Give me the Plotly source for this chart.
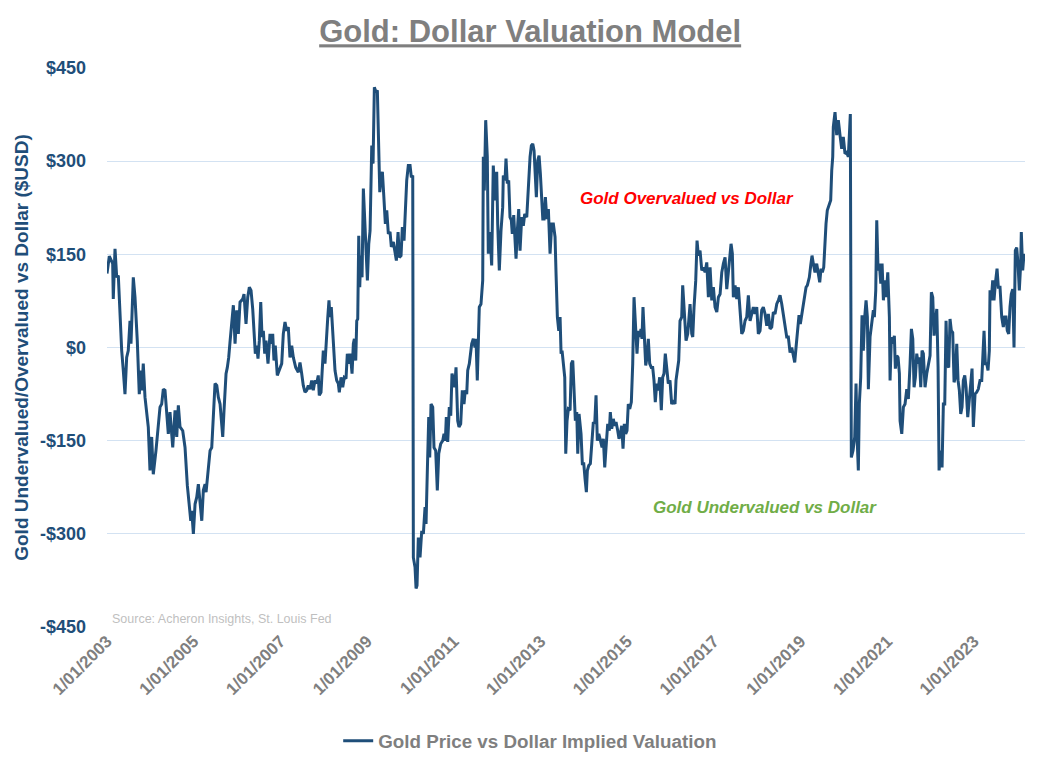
import pandas as pd
import plotly.graph_objects as go

# ---- data (decimal year, $ over/under valuation) ----
dec_year = [
 2003.000,2003.053,2003.131,2003.145,2003.185,2003.224,2003.261,2003.300,2003.339,2003.376,2003.415,2003.454,2003.491,2003.531,2003.554,2003.607,2003.646,2003.699,2003.745,2003.784,2003.807,2003.837,2003.877,2003.953,2003.992,
 2004.031,2004.068,2004.130,2004.183,2004.223,2004.262,2004.299,2004.338,2004.377,2004.414,2004.453,2004.516,2004.569,2004.608,2004.645,2004.684,2004.746,2004.799,2004.852,2004.898,2004.931,2004.954,2004.991,
 2005.030,2005.069,2005.106,2005.145,2005.185,2005.221,2005.261,2005.284,2005.323,2005.376,2005.415,2005.452,2005.491,2005.531,2005.567,2005.607,2005.646,2005.669,2005.699,2005.745,2005.775,2005.807,2005.837,2005.877,2005.914,2005.953,2005.992,
 2006.029,2006.068,2006.130,2006.160,2006.206,2006.246,2006.283,2006.322,2006.361,2006.391,2006.421,2006.453,2006.483,2006.513,2006.546,2006.576,2006.606,2006.638,2006.668,2006.714,2006.760,2006.790,2006.822,2006.852,2006.882,2006.928,2006.975,
 2007.030,2007.067,2007.106,2007.145,2007.182,2007.221,2007.261,2007.298,2007.353,2007.413,2007.452,2007.491,2007.528,2007.567,2007.607,2007.644,2007.683,2007.722,2007.759,2007.798,2007.837,2007.874,2007.897,2007.937,2007.967,2007.990,
 2008.029,2008.068,2008.091,2008.121,2008.144,2008.174,2008.220,2008.260,2008.299,2008.336,2008.359,2008.398,2008.437,2008.474,2008.513,2008.543,2008.582,2008.613,2008.652,2008.682,2008.705,2008.737,2008.760,2008.783,2008.806,2008.829,2008.852,2008.882,2008.912,2008.952,
 2009.005,2009.037,2009.067,2009.106,2009.136,2009.166,2009.205,2009.235,2009.268,2009.291,2009.321,2009.351,2009.383,2009.420,2009.452,2009.489,2009.528,2009.558,2009.604,2009.644,2009.674,2009.713,2009.743,2009.782,2009.812,2009.851,2009.881,2009.913,2009.950,2009.990,
 2010.020,2010.052,2010.066,2010.105,2010.128,2010.151,2010.181,2010.220,2010.260,2010.297,2010.336,2010.359,2010.389,2010.421,2010.444,2010.474,2010.513,2010.543,2010.582,2010.619,2010.652,2010.698,2010.744,2010.774,2010.804,2010.827,2010.859,2010.896,2010.929,2010.958,2010.989,
 2011.021,2011.051,2011.090,2011.120,2011.159,2011.196,2011.235,2011.265,2011.298,2011.321,2011.358,2011.413,2011.450,2011.489,2011.512,2011.542,2011.588,2011.627,2011.667,2011.681,2011.704,2011.736,2011.773,2011.796,2011.835,2011.874,2011.911,2011.950,2011.990,
 2012.013,2012.050,2012.089,2012.128,2012.142,2012.181,2012.204,2012.234,2012.266,2012.296,2012.326,2012.349,2012.382,2012.412,2012.435,2012.465,2012.497,2012.527,2012.566,2012.603,2012.635,2012.682,2012.719,2012.758,2012.788,2012.820,2012.850,2012.873,2012.903,2012.935,2012.965,2012.995,
 2013.028,2013.051,2013.081,2013.111,2013.143,2013.180,2013.219,2013.258,2013.295,2013.334,2013.357,2013.388,2013.420,2013.450,2013.473,2013.496,2013.526,2013.558,2013.581,2013.611,2013.641,2013.681,2013.711,2013.743,2013.773,2013.803,2013.835,2013.858,2013.888,2013.934,2013.964,2013.997,
 2014.027,2014.057,2014.080,2014.112,2014.149,2014.188,2014.218,2014.250,2014.280,2014.310,2014.343,2014.373,2014.419,2014.449,2014.481,2014.511,2014.550,2014.587,2014.610,2014.642,2014.679,2014.712,2014.742,2014.781,2014.811,2014.841,2014.873,2014.903,2014.933,2014.965,2014.995,
 2015.025,2015.058,2015.095,2015.127,2015.157,2015.180,2015.203,2015.226,2015.256,2015.288,2015.318,2015.341,2015.364,2015.394,2015.427,2015.457,2015.487,2015.519,2015.556,2015.588,2015.618,2015.648,2015.681,2015.711,2015.750,2015.787,2015.819,2015.849,2015.879,2015.911,2015.948,2015.987,
 2016.026,2016.064,2016.103,2016.126,2016.156,2016.188,2016.218,2016.257,2016.280,2016.317,2016.357,2016.396,2016.426,2016.449,2016.488,2016.511,2016.541,2016.580,2016.610,2016.640,2016.679,2016.719,2016.756,2016.795,2016.834,2016.871,2016.910,2016.949,2016.986,
 2017.025,2017.065,2017.102,2017.141,2017.180,2017.217,2017.256,2017.295,2017.332,2017.371,2017.394,2017.424,2017.447,2017.487,2017.526,2017.563,2017.602,2017.641,2017.678,2017.717,2017.756,2017.793,2017.833,2017.872,2017.909,2017.948,2017.987,
 2018.024,2018.063,2018.102,2018.139,2018.179,2018.218,2018.255,2018.294,2018.333,2018.370,2018.409,2018.449,2018.486,2018.525,2018.564,2018.601,2018.640,2018.679,2018.716,2018.756,2018.795,2018.832,2018.864,2018.894,2018.933,2018.963,2018.993,
 2019.025,2019.062,2019.101,2019.125,2019.155,2019.201,2019.233,2019.263,2019.293,2019.332,2019.371,2019.408,2019.441,2019.471,2019.501,2019.533,2019.563,2019.586,2019.616,2019.655,2019.694,2019.718,2019.741,2019.754,2019.794,2019.833,2019.870,2019.909,2019.948,2019.985,
 2020.024,2020.063,2020.100,2020.123,2020.147,2020.170,2020.209,2020.248,2020.278,2020.308,2020.331,2020.354,2020.386,2020.416,2020.446,2020.478,2020.509,2020.539,2020.562,2020.601,2020.640,2020.677,2020.700,2020.732,2020.755,2020.785,2020.815,2020.848,2020.878,2020.908,2020.940,2020.970,
 2021.009,2021.046,2021.062,2021.092,2021.125,2021.161,2021.184,2021.217,2021.247,2021.277,2021.293,2021.332,2021.369,2021.408,2021.447,2021.484,2021.524,2021.554,2021.586,2021.616,2021.646,2021.678,2021.708,2021.738,2021.770,2021.800,2021.830,2021.869,2021.909,2021.946,2021.985,
 2022.015,2022.047,2022.077,2022.107,2022.140,2022.170,2022.193,2022.232,2022.262,2022.292,2022.324,2022.354,2022.384,2022.416,2022.446,2022.476,2022.508,2022.539,2022.569,2022.601,2022.631,2022.661,2022.693,2022.723,2022.753,2022.786,2022.816,2022.855,2022.892,2022.924,2022.954,2022.984,
 2023.023,2023.062,2023.099,2023.138,2023.178,2023.201,2023.231,2023.261,2023.293,2023.323,2023.353,2023.369,2023.399,2023.431,2023.461,2023.492,2023.531,2023.561,2023.600,2023.639,2023.676,2023.708,2023.738,2023.768,2023.800,2023.830,2023.860,2023.893,2023.923,2023.953,2023.985,
 2024.015,2024.045,2024.077,2024.091,2024.123,2024.153,
]

valuation = [
 119,147,135,78,159,113,116,54,-5,-37,-75,-16,-5,43,6,113,81,11,-75,-37,-69,-26,-80,-128,-198,
 -144,-204,-166,-123,-96,-91,-67,-69,-112,-139,-104,-161,-101,-144,-93,-128,-134,-161,-222,-257,-279,-263,-300,
 -252,-241,-220,-246,-279,-230,-220,-233,-209,-166,-161,-112,-58,-61,-80,-91,-120,-144,-101,-42,-32,-16,9,46,68,6,60,
 22,73,78,86,38,81,97,92,62,33,-10,3,-18,11,73,17,27,-10,11,-26,22,6,22,-21,3,-45,-37,
 -26,22,41,27,33,-16,3,-16,-32,-40,-24,-42,-61,-72,-69,-61,-67,-53,-69,-53,-58,-45,-77,-72,-26,-5,
 -26,33,46,76,49,65,17,-37,-53,-58,-72,-48,-64,-48,-50,-10,-26,-10,-42,6,14,-21,43,46,180,97,148,113,256,194,
 108,167,188,325,296,419,411,414,339,250,274,283,245,199,221,183,186,162,170,148,140,186,145,148,194,172,226,269,293,293,
 274,277,-338,-354,-388,-383,-306,-338,-295,-300,-257,-284,-198,-112,-177,-91,-96,-161,-166,-230,-171,-155,-150,-139,-150,-112,-152,-96,-110,-42,-50,
 -64,-32,-118,-128,-123,-69,-91,-69,-75,-37,-26,6,14,0,14,-53,65,70,108,307,253,366,307,151,186,132,293,237,283,
 199,124,188,226,277,269,304,264,269,210,205,183,213,183,143,188,223,156,210,196,215,210,258,307,325,328,317,285,242,301,309,280,
 237,207,207,242,207,223,151,199,199,178,119,49,27,49,-10,-5,-26,-48,-171,-118,-99,-101,-26,-21,-69,-118,-104,-171,-107,-139,-187,-187,
 -212,-233,-198,-190,-187,-144,-120,-123,-77,-150,-139,-147,-161,-147,-193,-161,-123,-134,-104,-131,-115,-126,-120,-134,-147,-139,-126,-163,-123,-139,-134,
 -91,-99,-88,-26,81,43,6,-10,27,17,30,14,65,6,-29,-16,14,-26,-32,-32,-53,-88,-58,-69,-48,-101,-48,-42,-10,-32,-58,-53,
 -91,-85,-91,-53,-37,-21,43,49,100,54,11,22,49,70,22,17,65,108,172,148,156,124,129,121,137,81,129,76,97,
 65,57,81,86,121,135,145,94,124,151,167,151,81,100,78,97,54,22,27,43,49,84,43,57,65,54,65,
 22,27,60,65,54,35,54,30,33,57,54,70,76,84,70,54,33,17,17,-8,0,-16,-24,0,27,52,38,
 52,68,81,97,100,113,132,148,135,121,135,116,105,127,121,129,172,199,221,231,237,285,307,355,379,342,366,342,320,339,
 312,314,307,339,376,-177,-166,-144,-58,-155,-198,-91,-48,52,-5,49,76,49,-67,17,43,60,49,92,205,124,135,103,135,76,108,81,
 121,49,-53,17,6,19,-34,-13,-16,-42,-118,-139,-96,-91,-67,-83,-26,30,14,-64,-48,-10,-26,-16,-64,-5,-10,-64,-42,-26,-13,
 89,81,19,38,62,-32,-198,-166,-193,-91,-91,43,-29,-32,46,27,24,-56,-48,6,-53,-69,-107,-96,-53,-45,-64,-112,-88,-58,-34,-128,
 -75,-72,-67,-53,-53,-10,27,-26,-26,-37,-5,92,76,108,76,103,127,97,97,49,33,49,49,27,22,65,86,94,0,156,161,
 135,92,135,186,124,151,
]

tick_years = [2003, 2005, 2007, 2009, 2011, 2013, 2015, 2017, 2019, 2021, 2023]
tick_labels = ["1/01/" + str(y) for y in tick_years]
y_ticks = [-450, -300, -150, 0, 150, 300, 450]
y_labels = ["-$450", "-$300", "-$150", "$0", "$150", "$300", "$450"]


def to_date(y):
    yr = int(y)
    start = pd.Timestamp(year=yr, month=1, day=1)
    end = pd.Timestamp(year=yr + 1, month=1, day=1)
    return start + (end - start) * (y - yr)


dates = [to_date(y) for y in dec_year]

BLUE = "#1f4e79"
GREY = "#7f7f7f"
GRID = "#d3e2f2"

fig = go.Figure()
fig.add_trace(go.Scatter(
    x=dates, y=valuation, mode="lines",
    name="Gold Price vs Dollar Implied Valuation",
    line=dict(color=BLUE, width=3),
))

fig.update_layout(
    width=1054, height=767,
    paper_bgcolor="white", plot_bgcolor="white",
    margin=dict(l=107, r=29, t=68, b=140, autoexpand=False),
    font=dict(family="Liberation Sans, Arial, sans-serif"),
    title=dict(
        text="<u>Gold: Dollar Valuation Model</u>",
        x=0.503, xanchor="center", y=0.959, yanchor="middle",
        font=dict(family="Liberation Sans Narrow, Arial Narrow, Liberation Sans", size=31,
                  color=GREY, weight="bold"),
    ),
    showlegend=True,
    legend=dict(
        orientation="h", x=0.461, xanchor="center", y=-0.204, yanchor="middle",
        font=dict(size=18.8, color=GREY, weight="bold"),
        itemwidth=30,
    ),
    xaxis=dict(
        range=[to_date(2003.0), to_date(2024.176)],
        tickvals=[pd.Timestamp(year=y, month=1, day=1) for y in tick_years],
        ticktext=tick_labels,
        tickangle=-45,
        tickfont=dict(size=17, color=GREY, weight="bold"),
        showgrid=False, zeroline=False, showline=False,
        ticks="", automargin=False,
    ),
    yaxis=dict(
        range=[-450, 450],
        tickvals=y_ticks, ticktext=y_labels,
        tickfont=dict(size=18, color=BLUE, weight="bold"),
        showgrid=True, gridcolor=GRID, gridwidth=1,
        zeroline=False, showline=False,
        ticks="", ticklabelstandoff=20, automargin=False,
        title=dict(text="Gold Undervalued/Overvalued vs Dollar ($USD)",
                   font=dict(size=19, color=BLUE, weight="bold"), standoff=6),
    ),
)

fig.add_annotation(
    xref="paper", yref="y", x=0.632, xanchor="center", y=240,
    text="<i>Gold Overvalued vs Dollar</i>",
    showarrow=False, font=dict(size=17, color="#ff0000", weight="bold"),
)
fig.add_annotation(
    xref="paper", yref="y", x=0.717, xanchor="center", y=-258,
    text="<i>Gold Undervalued vs Dollar</i>",
    showarrow=False,
    font=dict(family="Liberation Sans Narrow, Arial Narrow, Liberation Sans", size=17,
              color="#70ad47", weight="bold"),
)
fig.add_annotation(
    xref="paper", yref="y", x=0.003, y=-437, xanchor="left",
    text="Source: Acheron Insights, St. Louis Fed",
    showarrow=False,
    font=dict(family="Liberation Sans Narrow, Arial Narrow, Liberation Sans", size=12.5,
              color="#bfbfbf"),
)

fig.write_html("out.html", config={"displayModeBar": False},
               post_script="document.body.style.margin='0';")
